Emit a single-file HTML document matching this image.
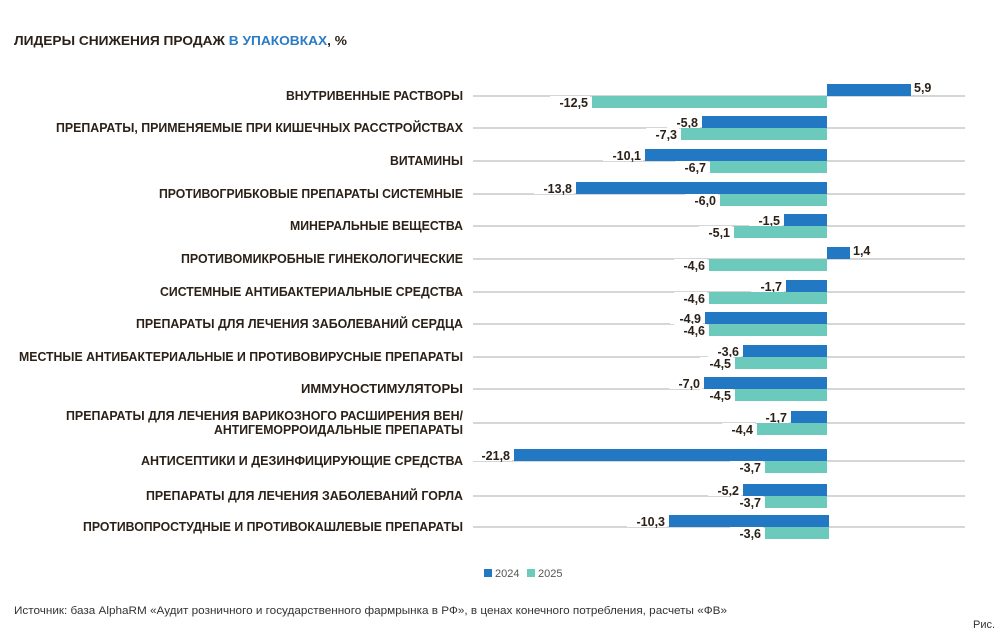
<!DOCTYPE html>
<html><head><meta charset="utf-8"><style>
html,body{margin:0;padding:0;background:#fff}
svg{display:block}
text{font-family:"Liberation Sans",sans-serif}
.l{font-weight:bold;font-size:12.5px;fill:#2b2118}
.v{font-weight:bold;font-size:12.5px;fill:#2b2118}
</style></head><body>
<svg width="1000" height="633" viewBox="0 0 1000 633" xmlns="http://www.w3.org/2000/svg">
<text x="14" y="45" class="l" font-size="13.5" textLength="333" lengthAdjust="spacingAndGlyphs">ЛИДЕРЫ СНИЖЕНИЯ ПРОДАЖ <tspan fill="#2b7cc4">В УПАКОВКАХ</tspan>, %</text>
<g id="c"></g>
<rect x="484" y="569" width="8" height="8" fill="#2278c2"/>
<text x="495" y="577" font-size="11" fill="#555">2024</text>
<rect x="527" y="569" width="8" height="8" fill="#6ccabd"/>
<text x="538" y="577" font-size="11" fill="#555">2025</text>
<text x="14" y="614" font-size="11" fill="#333" textLength="713" lengthAdjust="spacingAndGlyphs">Источник: база AlphaRM «Аудит розничного и государственного фармрынка в РФ», в ценах конечного потребления, расчеты «ФВ»</text>
<text x="973" y="628" font-size="11" fill="#333">Рис.</text>
</svg>
<script>
var rows=[
[96,["ВНУТРИВЕННЫЕ РАСТВОРЫ",286],5.9,-12.5,911,592],
[128,["ПРЕПАРАТЫ, ПРИМЕНЯЕМЫЕ ПРИ КИШЕЧНЫХ РАССТРОЙСТВАХ",56],-5.8,-7.3,702,681],
[161,["ВИТАМИНЫ",390],-10.1,-6.7,645,710],
[194,["ПРОТИВОГРИБКОВЫЕ ПРЕПАРАТЫ СИСТЕМНЫЕ",159],-13.8,-6.0,576,720],
[226,["МИНЕРАЛЬНЫЕ ВЕЩЕСТВА",290],-1.5,-5.1,784,734],
[259,["ПРОТИВОМИКРОБНЫЕ ГИНЕКОЛОГИЧЕСКИЕ",181],1.4,-4.6,850,709],
[292,["СИСТЕМНЫЕ АНТИБАКТЕРИАЛЬНЫЕ СРЕДСТВА",160],-1.7,-4.6,786,709],
[324,["ПРЕПАРАТЫ ДЛЯ ЛЕЧЕНИЯ ЗАБОЛЕВАНИЙ СЕРДЦА",136],-4.9,-4.6,705,709],
[357,["МЕСТНЫЕ АНТИБАКТЕРИАЛЬНЫЕ И ПРОТИВОВИРУСНЫЕ ПРЕПАРАТЫ",19],-3.6,-4.5,743,735],
[389,["ИММУНОСТИМУЛЯТОРЫ",301],-7.0,-4.5,704,735],
[423,null,-1.7,-4.4,791,757],
[461,["АНТИСЕПТИКИ И ДЕЗИНФИЦИРУЮЩИЕ СРЕДСТВА",141],-21.8,-3.7,514,765],
[496,["ПРЕПАРАТЫ ДЛЯ ЛЕЧЕНИЯ ЗАБОЛЕВАНИЙ ГОРЛА",146],-5.2,-3.7,743,765],
[527,["ПРОТИВОПРОСТУДНЫЕ И ПРОТИВОКАШЛЕВЫЕ ПРЕПАРАТЫ",83],-10.3,-3.6,669,765]];
var z=827,s='';
function lab(t,x,y){var w=463-x;return '<text class="l" x="'+x+'" y="'+y+'" textLength="'+w+'" lengthAdjust="spacingAndGlyphs">'+t+'</text>';}
function fmt(v){return v.toFixed(1).replace('.',',');}
rows.forEach(function(r,i){
var y=r[0];
s+='<line x1="473" x2="965" y1="'+y+'" y2="'+y+'" stroke="#bdbdbd" stroke-width="1.2"/>';
if(r[1])s+=lab(r[1][0],r[1][1],y+4);
else{s+=lab("ПРЕПАРАТЫ ДЛЯ ЛЕЧЕНИЯ ВАРИКОЗНОГО РАСШИРЕНИЯ ВЕН/",66,y-3);s+=lab("АНТИГЕМОРРОИДАЛЬНЫЕ ПРЕПАРАТЫ",214,y+11);}
var zz=(i==13)?829:z;
[[r[2],y-12,'#2278c2',r[4]],[r[3],y,'#6ccabd',r[5]]].forEach(function(b){
var v=b[0],e=b[3],x=v<0?e:zz,w=v<0?zz-e:e-zz;
s+='<rect x="'+x+'" y="'+b[1]+'" width="'+w+'" height="12" fill="'+b[2]+'"/>';
var ty=b[1]+11;
if(v<0){var lw=fmt(v).length*7.2+4;s+='<rect x="'+(x-lw-2)+'" y="'+(b[1])+'" width="'+lw+'" height="12" fill="#fff"/>';s+='<text class="v" x="'+(x-4)+'" y="'+ty+'" text-anchor="end">'+fmt(v)+'</text>';}
else s+='<text class="v" x="'+(x+w+3)+'" y="'+(ty-3)+'">'+fmt(v)+'</text>';
});
});
document.getElementById('c').innerHTML=s;
</script>
</body></html>
